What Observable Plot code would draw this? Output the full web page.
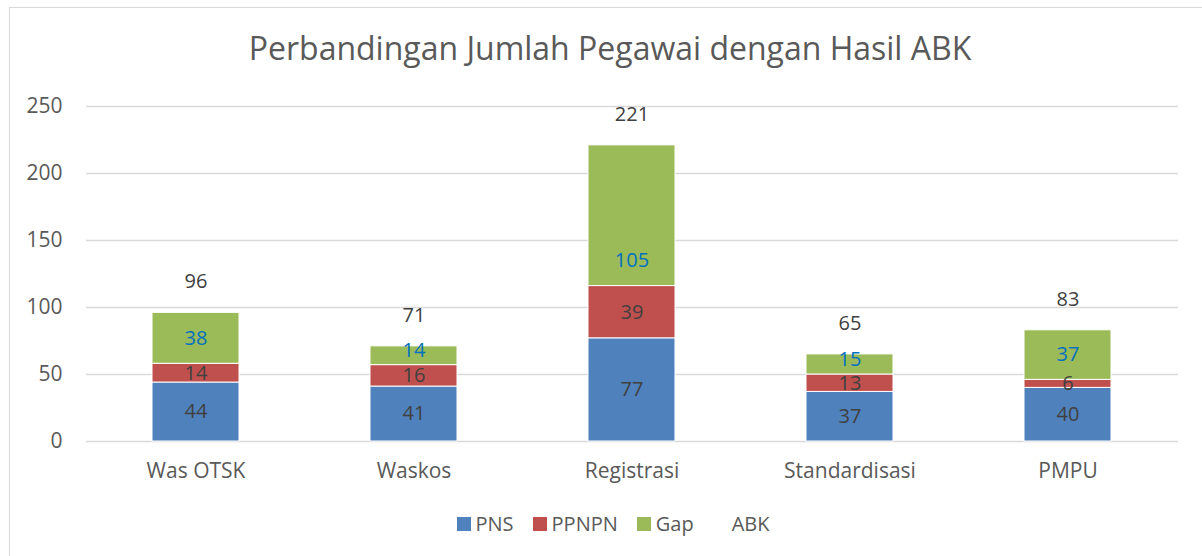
<!DOCTYPE html>
<html><head><meta charset="utf-8">
<script src="https://cdn.jsdelivr.net/npm/d3@7"></script>
<script src="https://cdn.jsdelivr.net/npm/@observablehq/plot@0.6"></script>
<style>
body{margin:0;background:#fff;font-family:"Open Sans",sans-serif;}
#wrap{position:relative;width:1202px;height:556px;overflow:hidden;}
#frame{position:absolute;left:9px;top:7px;width:1200px;height:600px;border:1px solid #d9d9d9;box-sizing:border-box;}
#title{position:absolute;top:26px;left:0;width:1220px;text-align:center;font-size:32px;color:#595959;}
#chart{position:absolute;left:0;top:0;}
#legend{position:absolute;top:510px;left:0;width:1226px;display:flex;justify-content:center;gap:19px;font-size:20px;color:#595959;}
#legend span.item{display:flex;align-items:center;gap:5px;}
#legend i{display:inline-block;width:14px;height:14px;}
</style></head>
<body><div id="wrap"><div id="frame"></div><div id="title">Perbandingan Jumlah Pegawai dengan Hasil ABK</div><div id="chart"></div><div id="legend"></div></div>
<script>
const categories = ["Was OTSK","Waskos","Registrasi","Standardisasi","PMPU"];
const series = ["PNS","PPNPN","Gap"];
const pns = [44,41,77,37,40];
const ppnpn = [14,16,39,13,6];
const gap = [38,14,105,15,37];
const abk = [96,71,221,65,83];
const colors = ["#4F81BD","#C0504D","#9BBB59"];
const labelColors = ["#404040","#404040","#0070C0"];
const yTicks = [0,50,100,150,200,250];

const values = [pns, ppnpn, gap];
const rows = [];
series.forEach((s, si) => categories.forEach((c, ci) => rows.push({cat: c, series: s, value: values[si][ci], lc: labelColors[si]})));
const totals = categories.map((c, i) => ({cat: c, abk: abk[i]}));
// label nudges seen in the reference: Registrasi Gap label sits low, small Gap labels sit slightly high
const isLow = d => d.cat === "Registrasi" && d.series === "Gap";
const isHigh = d => d.series === "Gap" && d.value < 20;
const isNormal = d => !isLow(d) && !isHigh(d);

const font = "'Open Sans', sans-serif";
const stackOpts = {x: "cat", y: "value", z: "series", order: series};
const lbl = (test, dy) => Plot.text(rows, Plot.stackY({...stackOpts, text: d => test(d) ? d.value : "", fill: "lc", fontSize: 20, dy}));
const plot = Plot.plot({
  width: 1202, height: 500,
  marginLeft: 86, marginRight: 24, marginTop: 106, marginBottom: 59,
  style: {fontFamily: font, fontSize: "21px", color: "#595959", background: "transparent"},
  x: {domain: categories, paddingInner: 0.6, paddingOuter: 0.3, label: null, tickSize: 0, tickPadding: 22},
  y: {domain: [0, 250], ticks: yTicks, label: null, tickSize: 0, tickPadding: 24},
  color: {domain: series, range: colors},
  marks: [
    Plot.ruleY(yTicks, {stroke: "#d9d9d9", strokeWidth: 1.5}),
    Plot.barY(rows, {...stackOpts, fill: "series", stroke: "white", strokeWidth: 1}),
    lbl(isNormal, 0),
    lbl(isLow, 45),
    lbl(isHigh, -5),
    Plot.text(totals, {x: "cat", y: "abk", text: "abk", dy: -31, fill: "#404040", fontSize: 20})
  ]
});
document.getElementById("chart").appendChild(plot);

const legend = document.getElementById("legend");
const legItems = [...series, "ABK"];
const legColors = [...colors, "transparent"];
legItems.forEach((s, i) => {
  const el = document.createElement("span");
  el.className = "item";
  el.innerHTML = `<i style="background:${legColors[i]}"></i><span>${s}</span>`;
  legend.appendChild(el);
});
</script></body></html>
